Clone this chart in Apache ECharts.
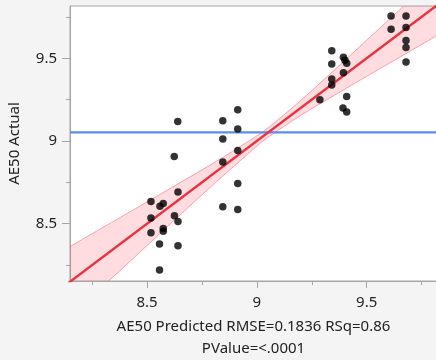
<!DOCTYPE html>
<html>
<head>
<meta charset="utf-8">
<script src="https://cdn.jsdelivr.net/npm/echarts@6/dist/echarts.min.js"></script>
<style>
html,body{margin:0;padding:0;background:#f4f4f4;}
#c{width:436px;height:360px;}
</style>
</head>
<body>
<div id="c"></div>
<script>
// Points: predicted (x) vs actual (y)
const predicted = [
  8.640, 8.624, 8.641, 8.518, 8.559, 8.574, 8.518, 8.625, 8.641, 8.518, 8.574, 8.574, 8.557, 8.641, 8.557,
  8.845, 8.845, 8.845, 8.845, 8.913, 8.913, 8.913, 8.913, 8.913,
  9.287, 9.341, 9.341, 9.341, 9.341, 9.394, 9.401, 9.409, 9.394, 9.409, 9.392, 9.409,
  9.611, 9.611, 9.679, 9.679, 9.679, 9.679, 9.679
];
const actual = [
  9.118, 8.907, 8.692, 8.634, 8.606, 8.622, 8.534, 8.548, 8.514, 8.446, 8.472, 8.455, 8.378, 8.367, 8.220,
  9.122, 9.012, 8.873, 8.602, 9.189, 9.072, 8.942, 8.743, 8.586,
  9.249, 9.546, 9.466, 9.375, 9.339, 9.506, 9.488, 9.470, 9.413, 9.269, 9.199, 9.175,
  9.755, 9.675, 9.755, 9.686, 9.607, 9.565, 9.478
];
// Fit line (actual = predicted) end points and mean of actual
const fitX = [8.10, 9.85];
const fitY = [8.10, 9.85];
const meanActual = 9.052;
// Confidence band
const bandX  = [8.10, 8.15, 8.40, 8.60, 8.80, 9.00, 9.05, 9.20, 9.40, 9.60, 9.815, 9.85];
const bandLo = [7.875, 7.937, 8.245, 8.491, 8.735, 8.969, 9.022, 9.155, 9.313, 9.468, 9.633, 9.660];
const bandHi = [8.325, 8.363, 8.555, 8.709, 8.865, 9.031, 9.078, 9.245, 9.487, 9.732, 9.997, 10.040];
// Axis ticks
const majorTicks = [8.5, 9, 9.5];
const minorTicks = [8.25, 8.75, 9.25, 9.75];
const xTitle = 'AE50 Predicted RMSE=0.1836 RSq=0.86\nPValue=<.0001';
const yTitle = 'AE50 Actual';

const XMIN = 8.1495, XMAX = 9.820, YMIN = 8.154, YMAX = 9.816;
const FONT = 'Noto Sans';
const axisGray = '#a6a6a6';

const chart = echarts.init(document.getElementById('c'), null, {renderer: 'canvas'});

function mkX(major) {
  return {
    type: 'value', min: XMIN, max: XMAX, position: 'bottom',
    axisLine: {show: major, onZero: false, lineStyle: {color: axisGray, width: 1}},
    axisTick: {show: true, customValues: major ? majorTicks : minorTicks, length: major ? 7 : 4,
               lineStyle: {color: axisGray}},
    axisLabel: {show: major, customValues: majorTicks, margin: 14, fontFamily: FONT, fontSize: 15, color: '#222',
                formatter: v => String(v)},
    splitLine: {show: false},
    name: major ? xTitle : '', nameLocation: 'middle', nameGap: 35,
    nameTextStyle: {fontFamily: FONT, fontSize: 15, color: '#222', lineHeight: 22, verticalAlign: 'top'}
  };
}
function mkY(major) {
  return {
    type: 'value', min: YMIN, max: YMAX, position: 'left',
    axisLine: {show: major, onZero: false, lineStyle: {color: axisGray, width: 1}},
    axisTick: {show: true, customValues: major ? majorTicks : minorTicks, length: major ? 8 : 4,
               lineStyle: {color: axisGray}},
    axisLabel: {show: major, customValues: majorTicks, margin: 13, fontFamily: FONT, fontSize: 15, color: '#222',
                formatter: v => String(v)},
    splitLine: {show: false},
    name: major ? yTitle : '', nameLocation: 'middle', nameGap: 48, nameRotate: 90,
    nameTextStyle: {fontFamily: FONT, fontSize: 15, color: '#222'}
  };
}

const bandData = bandX.map((x, i) => [x, bandLo[i], bandHi[i]]);

chart.setOption({
  animation: false,
  backgroundColor: '#f4f4f4',
  grid: {left: 70, top: 6, right: -1, bottom: 79, show: true, backgroundColor: '#ffffff',
         borderColor: axisGray, borderWidth: 1, containLabel: false, outerBoundsMode: 'none'},
  xAxis: [mkX(true), mkX(false)],
  yAxis: [mkY(true), mkY(false)],
  series: [
    {
      type: 'custom',
      xAxisIndex: 0, yAxisIndex: 0,
      data: [bandData[0]],
      renderItem: function (params, api) {
        const lo = bandData.map(d => api.coord([d[0], d[1]]));
        const hi = bandData.map(d => api.coord([d[0], d[2]]));
        const poly = lo.concat(hi.slice().reverse());
        const cs = params.coordSys;
        return {
          type: 'group',
          clipPath: {type: 'rect', shape: {x: cs.x, y: cs.y, width: cs.width, height: cs.height}},
          children: [
            {type: 'polygon', shape: {points: poly, smooth: 0.2}, style: {fill: 'rgba(250,60,80,0.18)'}},
            {type: 'polyline', shape: {points: lo, smooth: 0.3}, style: {stroke: 'rgba(245,110,125,0.6)', lineWidth: 1, fill: null}},
            {type: 'polyline', shape: {points: hi, smooth: 0.3}, style: {stroke: 'rgba(245,110,125,0.6)', lineWidth: 1, fill: null}}
          ]
        };
      },
      z: 1
    },
    {
      type: 'line', xAxisIndex: 0, yAxisIndex: 0,
      data: [[XMIN, meanActual], [XMAX, meanActual]],
      symbol: 'none', lineStyle: {color: '#5b8def', width: 2.2}, z: 2
    },
    {
      type: 'line', xAxisIndex: 0, yAxisIndex: 0,
      data: fitX.map((x, i) => [x, fitY[i]]),
      symbol: 'none', lineStyle: {color: '#e8323e', width: 2.4}, z: 3
    },
    {
      type: 'scatter', xAxisIndex: 0, yAxisIndex: 0,
      data: predicted.map((x, i) => [x, actual[i]]),
      symbol: 'circle', symbolSize: 7.5,
      itemStyle: {color: '#000000'}, z: 4
    }
  ]
});
</script>
</body>
</html>
